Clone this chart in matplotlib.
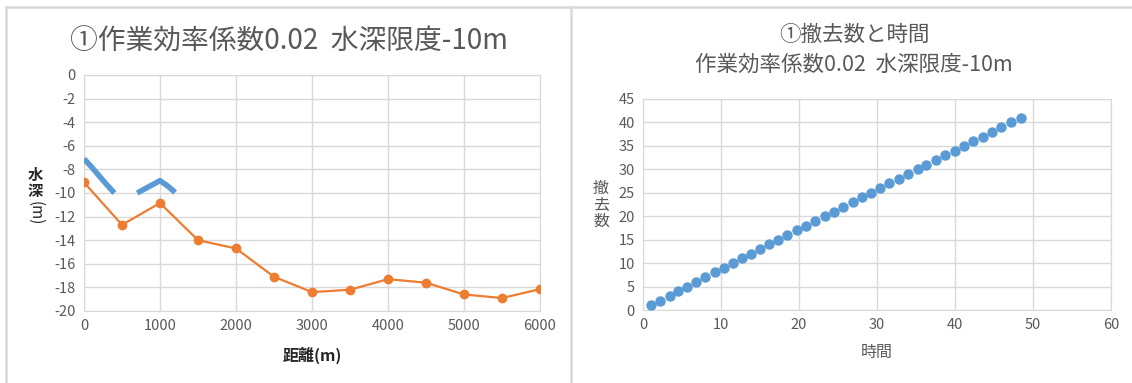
import numpy as np
import matplotlib
matplotlib.use("Agg")
import matplotlib.pyplot as plt
from matplotlib.lines import Line2D

plt.rcParams["font.family"] = ["Noto Sans CJK JP", "DejaVu Sans"]
plt.rcParams["axes.unicode_minus"] = False

# 左：距離と水深
dist = [0, 500, 1000, 1500, 2000, 2500, 3000, 3500, 4000, 4500, 5000, 5500, 6000]
depth = [-9.1, -12.7, -10.85, -14.0, -14.7, -17.1, -18.4, -18.2, -17.3, -17.6, -18.6, -18.9, -18.15]
# 水深限度以浅の区間（欠測で途切れる）
work_dist = [0, 100, 200, 300, 400, 550, 700, 800, 900, 1000, 1100, 1200]
work_depth = [-7.1, -7.8, -8.55, -9.3, -10.0, np.nan, -10.0, -9.65, -9.3, -8.95, -9.4, -9.95]

# 右：撤去数と時間
hours = [1.05, 2.2, 3.4, 4.55, 5.7, 6.85, 8.0, 9.2, 10.35, 11.5, 12.7, 13.85, 15.0, 16.2,
         17.35, 18.5, 19.7, 20.9, 22.1, 23.3, 24.5, 25.7, 26.9, 28.05, 29.2, 30.4, 31.6,
         32.8, 34.0, 35.2, 36.3, 37.55, 38.75, 39.95, 41.15, 42.35, 43.55, 44.75, 45.95,
         47.2, 48.4]
removed = list(range(1, 42))

BLUE, ORANGE = "#5B9BD5", "#ED7D31"
TXT, GRID = "#595959", "#D9D9D9"
W, H = 1132, 383

fig = plt.figure(figsize=(W / 100, H / 100), dpi=100)


def box(l, r, b, t):
    return [l / W, 1 - b / H, (r - l) / W, (b - t) / H]


def style(ax):
    ax.grid(True, color=GRID, lw=1)
    for s in ax.spines.values():
        s.set_color(GRID)
    ax.tick_params(length=0, colors=TXT, labelsize=10.5, pad=6)
    ax.set_axisbelow(True)


# パネル枠
for xs, ys in [([6, W], [7, 7]), ([6, 6], [7, H]), ([571, 571], [7, H])]:
    fig.add_artist(Line2D([x / W for x in xs], [1 - y / H for y in ys],
                          color=GRID, lw=1.8, transform=fig.transFigure))

# ---- 左 ----
ax1 = fig.add_axes(box(84, 540, 311, 75))
style(ax1)
ax1.plot(dist, depth, color=ORANGE, lw=1.6, marker="o", ms=6, zorder=3)
ax1.plot(work_dist, work_depth, color=BLUE, lw=4, solid_capstyle="butt", zorder=3)
ax1.set_xlim(0, 6000)
ax1.set_ylim(-20, 0)
ax1.set_xticks(range(0, 6001, 1000))
ax1.set_yticks(range(-20, 1, 2))
fig.text(289 / W, 1 - 42 / H, "①作業効率係数0.02  水深限度-10m", ha="center", va="center",
         fontsize=20, color=TXT)
fig.text(35 / W, 1 - 183 / H, "水\n深", ha="center", va="center", fontsize=11,
         color="#262626", fontweight="bold", linespacing=1.0)
fig.text(35 / W, 1 - 213 / H, "(m)", ha="center", va="center", fontsize=11,
         color="#262626", rotation=-90)
fig.text(312 / W, 1 - 355 / H, "距離(m)", ha="center", va="center", fontsize=11.5,
         color="#262626", fontweight="bold")

# ---- 右 ----
ax2 = fig.add_axes(box(643, 1111, 310, 99))
style(ax2)
ax2.plot(hours, removed, ls="none", marker="o", ms=6.5, color=BLUE, zorder=3)
ax2.set_xlim(0, 60)
ax2.set_ylim(0, 45)
ax2.set_xticks(range(0, 61, 10))
ax2.set_yticks(range(0, 46, 5))
fig.text(854 / W, 1 - 35 / H, "①撤去数と時間", ha="center", va="center",
         fontsize=15.5, color=TXT)
fig.text(854 / W, 1 - 65 / H, "作業効率係数0.02  水深限度-10m", ha="center", va="center",
         fontsize=15.5, color=TXT)
fig.text(601 / W, 1 - 205 / H, "撤\n去\n数", ha="center", va="center", fontsize=11.5,
         color=TXT, linespacing=0.95)
fig.text(877 / W, 1 - 352 / H, "時間", ha="center", va="center", fontsize=11.5, color=TXT)

fig.savefig("out.png", dpi=100)
